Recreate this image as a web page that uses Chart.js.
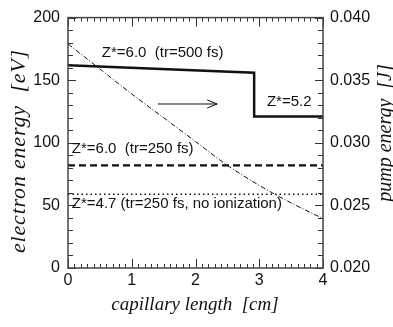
<!DOCTYPE html>
<html>
<head>
<meta charset="utf-8">
<script src="https://cdn.jsdelivr.net/npm/chart.js@4"></script>
<style>
	html, body { margin: 0; padding: 0; background: #fff; }
</style>
</head>
<body>
<canvas id="myChart" width="393" height="327"></canvas>
<script>
// values
const solidX = [0, 2.92, 2.92, 4];
const solidY = [162, 156, 121, 121];          // Z*=6.0 (tr=500 fs) -> Z*=5.2
const dashX = [0, 4];
const dashY = [82, 82];                        // Z*=6.0 (tr=250 fs)
const dotX = [0, 4];
const dotY = [59, 59];                         // Z*=4.7 no ionization
const pumpX = [0, 0.5, 1, 1.5, 2, 2.5, 3, 3.5, 4];
const pumpY = [0.0379, 0.0359, 0.0339, 0.0320, 0.0301, 0.0282, 0.0266, 0.0252, 0.02395];

const xTicks = [0, 1, 2, 3, 4];
const yTicks = [0, 50, 100, 150, 200];
const y2Ticks = [0.020, 0.025, 0.030, 0.035, 0.040];

const notes = [
	{ text: "Z*=6.0  (tr=500 fs)", x: 0.53, y: 172 },
	{ text: "Z*=5.2", x: 3.12, y: 133 },
	{ text: "Z*=6.0  (tr=250 fs)", x: 0.06, y: 95 },
	{ text: "Z*=4.7 (tr=250 fs, no ionization)", x: 0.06, y: 51.5 }
];
const arrowFrom = [1.41, 131];
const arrowTo = [2.34, 131];

function pts(xs, ys) {
	return xs.map((x, i) => ({ x: x, y: ys[i] }));
}

const ink = "#111";

const framePlugin = {
	id: "frame",
	afterDatasetsDraw(chart) {
		const ctx = chart.ctx;
		const a = chart.chartArea;
		const xs = chart.scales.x, ys = chart.scales.y, y2 = chart.scales.y2;
		ctx.save();
		ctx.strokeStyle = "#333";
		ctx.lineWidth = 1;
		// x ticks, bottom and top
		for (let i = 0; i <= 40; i++) {
			const v = i / 10;
			const px = Math.round(xs.getPixelForValue(v)) + 0.5;
			const len = (i % 10 === 0) ? 9 : 4;
			ctx.beginPath();
			ctx.moveTo(px, a.bottom); ctx.lineTo(px, a.bottom - len);
			ctx.moveTo(px, a.top); ctx.lineTo(px, a.top + len);
			ctx.stroke();
		}
		// left ticks
		for (let v = 0; v <= 200; v += 10) {
			const py = Math.round(ys.getPixelForValue(v)) + 0.5;
			const len = (v % 50 === 0) ? 8 : 5;
			ctx.beginPath();
			ctx.moveTo(a.left, py); ctx.lineTo(a.left + len, py);
			ctx.stroke();
		}
		// right ticks
		for (let i = 0; i <= 20; i++) {
			const v = 0.020 + i * 0.001;
			const py = Math.round(y2.getPixelForValue(v)) + 0.5;
			const len = (i % 5 === 0) ? 8 : 5;
			ctx.beginPath();
			ctx.moveTo(a.right, py); ctx.lineTo(a.right - len, py);
			ctx.stroke();
		}
		// box
		ctx.lineWidth = 1.5;
		ctx.strokeStyle = "#444";
		ctx.strokeRect(a.left, a.top, a.right - a.left, a.bottom - a.top);

		// annotations
		ctx.fillStyle = ink;
		ctx.font = "15px 'Liberation Sans', Arial, sans-serif";
		ctx.textBaseline = "middle";
		ctx.textAlign = "left";
		notes.forEach(n => {
			ctx.fillText(n.text, xs.getPixelForValue(n.x), ys.getPixelForValue(n.y));
		});

		// arrow
		const ax0 = xs.getPixelForValue(arrowFrom[0]), ay = ys.getPixelForValue(arrowFrom[1]);
		const ax1 = xs.getPixelForValue(arrowTo[0]);
		ctx.strokeStyle = ink;
		ctx.lineWidth = 1;
		ctx.beginPath();
		ctx.moveTo(ax0, ay); ctx.lineTo(ax1, ay);
		ctx.moveTo(ax1 - 10, ay - 4); ctx.lineTo(ax1, ay); ctx.lineTo(ax1 - 10, ay + 4);
		ctx.stroke();

		// axis titles
		ctx.textAlign = "center";
		ctx.textBaseline = "middle";
		ctx.font = "italic 19px 'Liberation Serif', 'Times New Roman', serif";
		ctx.fillText("capillary length  [cm]", 195, 305);
		ctx.font = "italic 20px 'Liberation Serif', 'Times New Roman', serif";
		ctx.save();
		ctx.translate(386, 133);
		ctx.rotate(-Math.PI / 2);
		ctx.fillText("pump energy  [J]", 0, 0);
		ctx.restore();
		ctx.save();
		ctx.font = "italic 22px 'Liberation Serif', 'Times New Roman', serif";
		ctx.letterSpacing = "0.8px";
		ctx.translate(19, 151);
		ctx.rotate(-Math.PI / 2);
		ctx.fillText("electron energy  [eV]", 0, 0);
		ctx.restore();
		ctx.restore();
	}
};

const tickFont = { family: "'Liberation Sans', Arial, sans-serif", size: 16 };

new Chart("myChart", {
	type: "scatter",
	data: {
		datasets: [{
			data: pts(solidX, solidY),
			showLine: true,
			borderColor: ink,
			borderWidth: 2.5,
			pointRadius: 0,
			yAxisID: "y"
		}, {
			data: pts(dashX, dashY),
			showLine: true,
			borderColor: ink,
			borderWidth: 2.2,
			borderDash: [7, 4],
			pointRadius: 0,
			yAxisID: "y"
		}, {
			data: pts(dotX, dotY),
			showLine: true,
			borderColor: ink,
			borderWidth: 1.5,
			borderDash: [1.5, 3],
			pointRadius: 0,
			yAxisID: "y"
		}, {
			data: pts(pumpX, pumpY),
			showLine: true,
			borderColor: ink,
			borderWidth: 1,
			borderDash: [5, 2, 1, 2],
			cubicInterpolationMode: "monotone",
			pointRadius: 0,
			yAxisID: "y2"
		}]
	},
	options: {
		responsive: false,
		animation: false,
		layout: { padding: { top: 15, left: 0, right: 0, bottom: 0 } },
		plugins: { legend: { display: false }, tooltip: { enabled: false } },
		scales: {
			x: {
				type: "linear", min: 0, max: 4,
				afterBuildTicks: s => { s.ticks = xTicks.map(v => ({ value: v })); },
				afterFit: s => { s.height = 59; },
				grid: { display: false, drawTicks: false },
				border: { display: false },
				ticks: { font: tickFont, color: ink, padding: 3, maxRotation: 0 }
			},
			y: {
				type: "linear", position: "left", min: 0, max: 200,
				afterBuildTicks: s => { s.ticks = yTicks.map(v => ({ value: v })); },
				afterFit: s => { s.width = 68; },
				grid: { display: false, drawTicks: false },
				border: { display: false },
				ticks: { font: tickFont, color: ink, padding: 8 }
			},
			y2: {
				type: "linear", position: "right", min: 0.02, max: 0.04,
				afterBuildTicks: s => { s.ticks = y2Ticks.map(v => ({ value: v })); },
				afterFit: s => { s.width = 70; },
				grid: { display: false, drawTicks: false },
				border: { display: false },
				ticks: { font: tickFont, color: ink, padding: 7, callback: v => v.toFixed(3) }
			}
		}
	},
	plugins: [framePlugin]
});
</script>
</body>
</html>
